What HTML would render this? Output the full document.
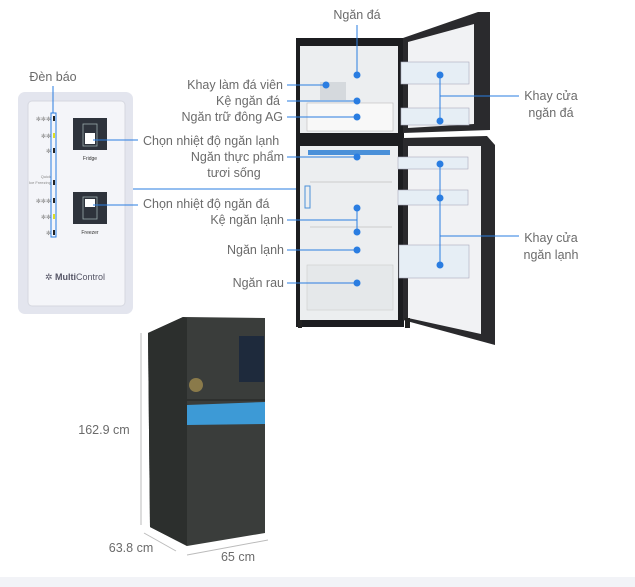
<!DOCTYPE html>
<html><head><meta charset="utf-8"><style>
html,body{margin:0;padding:0;background:#fff;}
svg{display:block;font-family:"Liberation Sans",sans-serif;}
.t{font-size:12.5px;fill:#6b6b6b;}
.s{font-size:5px;fill:#333;}
.l{stroke:#2a7de1;stroke-width:1;fill:none;}
.d{fill:#2a7de1;}
</style></head><body>
<svg width="635" height="587" viewBox="0 0 635 587">
<rect x="0" y="577" width="635" height="10" fill="#f2f3f7"/>
<!-- control panel -->
<rect x="18" y="92" width="115" height="222" rx="7" fill="#e3e5ee"/>
<rect x="28" y="101" width="97" height="205" rx="4" fill="#f4f5f9" stroke="#d6d8e0"/>
<rect x="73" y="118" width="34" height="32" fill="#2e333c"/>
<rect x="83" y="124" width="14" height="22" fill="none" stroke="#9aa" stroke-width="0.8"/>
<rect x="85" y="133" width="10" height="11" fill="#fff"/>
<text x="90" y="160" class="s" text-anchor="middle">Fridge</text>
<rect x="73" y="192" width="34" height="32" fill="#2e333c"/>
<rect x="83" y="197" width="14" height="22" fill="none" stroke="#9aa" stroke-width="0.8"/>
<rect x="85" y="199" width="10" height="8" fill="#fff"/>
<text x="90" y="234" class="s" text-anchor="middle">Freezer</text>
<g fill="#222">
<rect x="53" y="116" width="2" height="5"/><rect x="53" y="133" width="2" height="5" fill="#dd2"/><rect x="53" y="148" width="2" height="5"/>
<rect x="53" y="180" width="2" height="5"/><rect x="53" y="198" width="2" height="5"/><rect x="53" y="214" width="2" height="5" fill="#dd2"/><rect x="53" y="230" width="2" height="5"/>
</g>
<g class="s" fill="#777" text-anchor="end" style="font-size:6px;fill:#888">
<text x="51" y="121">✻✻✻</text><text x="51" y="138">✻✻</text><text x="51" y="153">✻</text>
<text x="51" y="178" style="font-size:4px">Quick</text><text x="51" y="184" style="font-size:4px">Ice Freezing</text>
<text x="51" y="203">✻✻✻</text><text x="51" y="219">✻✻</text><text x="51" y="235">✻</text>
</g>
<rect x="51" y="113" width="5" height="124" class="l"/>
<text x="53" y="81" class="t" text-anchor="middle">Đèn báo</text>
<line x1="53" y1="86" x2="53" y2="113" class="l"/>
<text x="45" y="280" style="font-size:9px;fill:#556" >✲ <tspan font-weight="bold">Multi</tspan>Control</text>
<line x1="93" y1="140" x2="138" y2="140" class="l"/>
<line x1="93" y1="205" x2="138" y2="205" class="l"/>
<line x1="133" y1="189" x2="303" y2="189" class="l"/>
<!-- open fridge -->
<rect x="296" y="38" width="108" height="289" fill="#1c1d20"/>
<rect x="300" y="46" width="98" height="87" fill="#eceef0"/>
<rect x="300" y="146" width="98" height="174" fill="#eceef0"/>
<rect x="307" y="103" width="86" height="28" fill="#f8f8f8" stroke="#bbb" stroke-width="0.6"/>
<rect x="320" y="82" width="26" height="18" fill="#d5d9dd"/>
<rect x="308" y="150" width="82" height="5" fill="#4a90d9"/>
<rect x="305" y="186" width="5" height="22" fill="none" stroke="#4a90d9"/>
<rect x="307" y="265" width="86" height="45" fill="#e5e8ea" stroke="#ccc" stroke-width="0.6"/>
<line x1="310" y1="227" x2="392" y2="227" stroke="#ccc"/>
<line x1="310" y1="182" x2="392" y2="182" stroke="#ccc"/>
<rect x="298" y="320" width="4" height="8" fill="#222"/>
<!-- freezer door -->
<polygon points="403,38 478,12 490,12 490,130 403,133" fill="#2a2a2d"/>
<polygon points="408,42 474,24 474,124 408,128" fill="#f1f2f4"/>
<rect x="401" y="62" width="68" height="22" fill="#e6eef5" stroke="#aab" stroke-width="0.6"/>
<rect x="401" y="108" width="68" height="17" fill="#e6eef5" stroke="#aab" stroke-width="0.6"/>
<!-- fridge door -->
<polygon points="403,138 487,136 495,145 495,345 403,320" fill="#2a2a2d"/>
<polygon points="408,146 481,146 481,334 408,318" fill="#f1f2f4"/>
<rect x="398" y="157" width="70" height="12" fill="#e6eef5" stroke="#aab" stroke-width="0.6"/>
<rect x="398" y="190" width="70" height="15" fill="#e6eef5" stroke="#aab" stroke-width="0.6"/>
<rect x="399" y="245" width="70" height="33" fill="#e6eef5" stroke="#aab" stroke-width="0.6"/>
<rect x="405" y="318" width="5" height="10" fill="#222"/>
<!-- connectors -->
<line x1="357" y1="25" x2="357" y2="75" class="l"/>
<line x1="287" y1="85" x2="326" y2="85" class="l"/>
<line x1="287" y1="101" x2="357" y2="101" class="l"/>
<line x1="287" y1="117" x2="357" y2="117" class="l"/>
<line x1="287" y1="157" x2="357" y2="157" class="l"/>
<line x1="357" y1="208" x2="357" y2="232" class="l"/>
<line x1="287" y1="220" x2="357" y2="220" class="l"/>
<line x1="287" y1="250" x2="357" y2="250" class="l"/>
<line x1="287" y1="283" x2="357" y2="283" class="l"/>
<line x1="440" y1="75" x2="440" y2="121" class="l"/>
<line x1="440" y1="96" x2="519" y2="96" class="l"/>
<line x1="440" y1="164" x2="440" y2="265" class="l"/>
<line x1="440" y1="236" x2="519" y2="236" class="l"/>
<g class="d">
<circle cx="357" cy="75" r="3.5"/><circle cx="326" cy="85" r="3.5"/><circle cx="357" cy="101" r="3.5"/><circle cx="357" cy="117" r="3.5"/>
<circle cx="357" cy="157" r="3.5"/><circle cx="357" cy="208" r="3.5"/><circle cx="357" cy="232" r="3.5"/><circle cx="357" cy="250" r="3.5"/><circle cx="357" cy="283" r="3.5"/>
<circle cx="440" cy="75" r="3.5"/><circle cx="440" cy="121" r="3.5"/><circle cx="440" cy="164" r="3.5"/><circle cx="440" cy="198" r="3.5"/><circle cx="440" cy="265" r="3.5"/>
</g>
<!-- labels -->
<g class="t">
<text x="357" y="19" text-anchor="middle">Ngăn đá</text>
<text x="283" y="89" text-anchor="end">Khay làm đá viên</text>
<text x="280" y="105" text-anchor="end">Kệ ngăn đá</text>
<text x="283" y="121" text-anchor="end">Ngăn trữ đông AG</text>
<text x="143" y="145">Chọn nhiệt độ ngăn lạnh</text>
<text x="284" y="161" text-anchor="end">Ngăn thực phẩm</text>
<text x="234" y="177" text-anchor="middle">tươi sống</text>
<text x="143" y="208">Chọn nhiệt độ ngăn đá</text>
<text x="284" y="224" text-anchor="end">Kệ ngăn lạnh</text>
<text x="284" y="254" text-anchor="end">Ngăn lạnh</text>
<text x="284" y="287" text-anchor="end">Ngăn rau</text>
<text x="551" y="100" text-anchor="middle">Khay cửa</text>
<text x="551" y="117" text-anchor="middle">ngăn đá</text>
<text x="551" y="242" text-anchor="middle">Khay cửa</text>
<text x="551" y="259" text-anchor="middle">ngăn lạnh</text>
<text x="104" y="434" text-anchor="middle">162.9 cm</text>
<text x="131" y="552" text-anchor="middle">63.8 cm</text>
<text x="238" y="561" text-anchor="middle">65 cm</text>
</g>
<!-- closed fridge -->
<polygon points="148,333 183,317 265,318 265,533 187,546 150,527" fill="#3a3d3b"/>
<polygon points="148,333 183,317 187,318 187,546 150,527" fill="#2c2f2d"/>
<line x1="187" y1="400" x2="265" y2="400" stroke="#222"/>
<polygon points="187,405 265,402 265,424 187,425" fill="#3d9ad6"/>
<rect x="239" y="336" width="25" height="46" fill="#1e2a3c"/>
<circle cx="196" cy="385" r="7" fill="#8a7a4a"/>
<line x1="141" y1="333" x2="141" y2="525" stroke="#bbb"/>
<line x1="144" y1="533" x2="176" y2="551" stroke="#bbb"/>
<line x1="187" y1="555" x2="268" y2="540" stroke="#bbb"/>
</svg>
</body></html>
